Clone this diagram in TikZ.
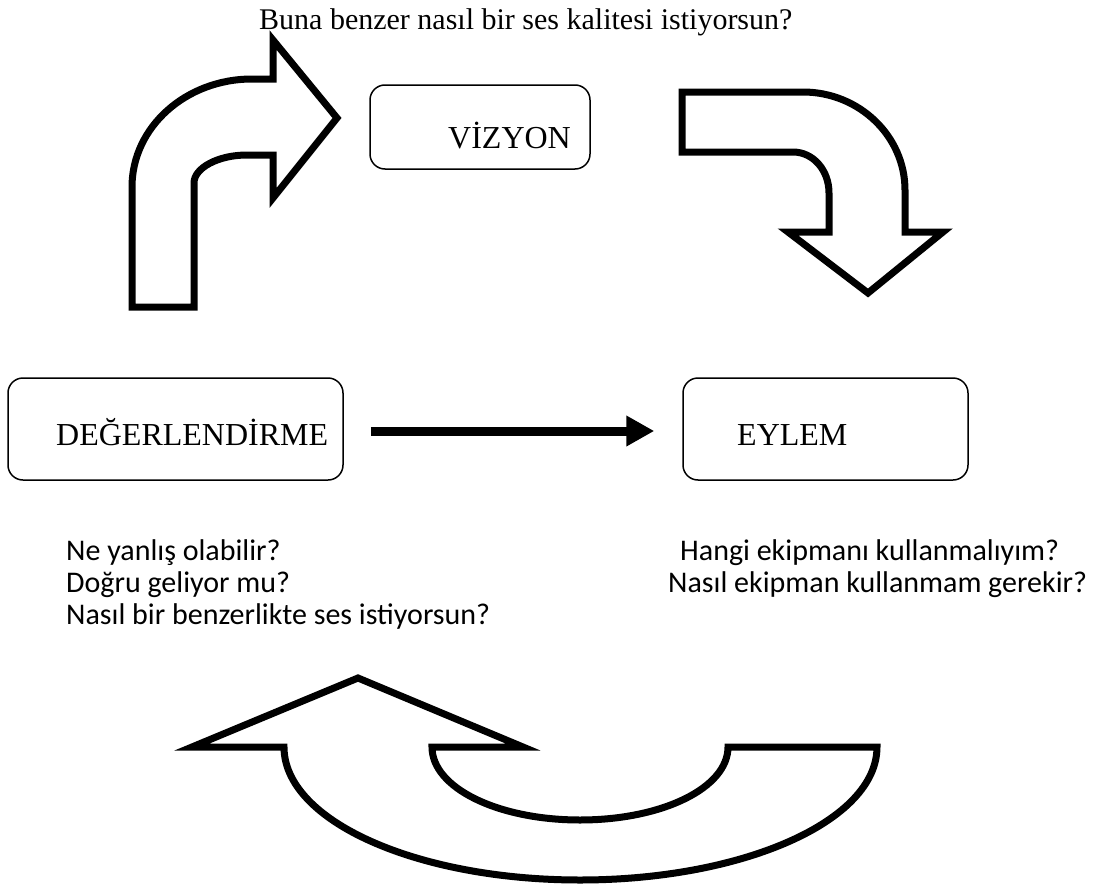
\documentclass[tikz,border=0pt]{standalone}
\usepackage{fontspec}
\setmainfont{Liberation Serif}
\newfontfamily\calibri{Carlito}
\usepackage{tikz}
\usetikzlibrary{arrows.meta}
\usetikzlibrary{calc}
\usetikzlibrary{positioning}

\tikzset{
  kutu/.style={draw, rounded corners=15pt, line width=1.5pt, inner sep=0pt},
  yazi/.style={font=\fontsize{32}{36}\selectfont, inner sep=0pt, anchor=base west},
  soru/.style={font=\calibri\fontsize{30}{32}\selectfont, inner sep=0pt, anchor=base west},
  blok/.style={draw, line width=7pt, line join=miter, fill=white},
  kalinok/.style={line width=9pt, -{Triangle[length=28pt,width=29pt]}}
}

\begin{document}
\begin{tikzpicture}[x=1pt,y=-1pt]
\useasboundingbox (0,0) rectangle (1104,886);
% title
\node[yazi, font=\fontsize{30}{36}\selectfont] (baslik) at (259,30) {Buna benzer nasıl bir ses kalitesi istiyorsun?};
% boxes
\node[kutu, minimum width=220pt, minimum height=84pt] (vizyon) at (480,127) {};
\node[kutu, minimum width=335pt, minimum height=102pt] (deger) at (175.5,429) {};
\node[kutu, minimum width=285pt, minimum height=102pt] (eylem) at (825.5,429) {};
\node[yazi] (vizyonyazi) at (448,148) {VİZYON};
\node[yazi] (degeryazi) at (56,445) {DEĞERLENDİRME};
\node[yazi] (eylemyazi) at (737,445) {EYLEM};
% arrow between the two boxes
\draw[kalinok] ([xshift=27pt,yshift=-2pt]deger.east) -- ([xshift=-28pt,yshift=-2pt]eylem.west);
% questions
\foreach \satir [count=\i] in {Ne yanlış olabilir?, Doğru geliyor mu?, Nasıl bir benzerlikte ses istiyorsun?}
  \node[soru] (sol\i) at (66,528+32*\i) {\satir};
\node[soru] (sag1) at (680,560) {Hangi ekipmanı kullanmalıyım?};
\node[soru] (sag2) at (668,592) {Nasıl ekipman kullanmam gerekir?};
% bent arrow, up and right
\draw[blok] (132,307) -- (132,187) .. controls (132,127) and (186,79) .. (252,79)
  -- (273,79) -- (273,40) -- (337,118) -- (273,198) -- (273,155) -- (247,155)
  .. controls (218,155) and (194,168) .. (194,183) -- (194,307) -- cycle;
% bent arrow, right and down
\draw[blok] (682,92) -- (803,92) .. controls (859,92) and (905,136) .. (905,190)
  -- (905,232) -- (943,232) -- (868,293) -- (788,232) -- (829,232) -- (829,193)
  .. controls (829,170) and (813,152) .. (793,152) -- (682,152) -- cycle;
% u-turn arrow at the bottom
\draw[blok] (284,747) -- (192,747) -- (358,678) -- (523,747) -- (432,747)
  .. controls (432,788) and (498,820) .. (580,820) .. controls (662,820) and (728,788) .. (728,747)
  -- (877,747) .. controls (877,821) and (743,880) .. (580,880)
  .. controls (417,880) and (284,821) .. (284,747) -- cycle;
\end{tikzpicture}
\end{document}
